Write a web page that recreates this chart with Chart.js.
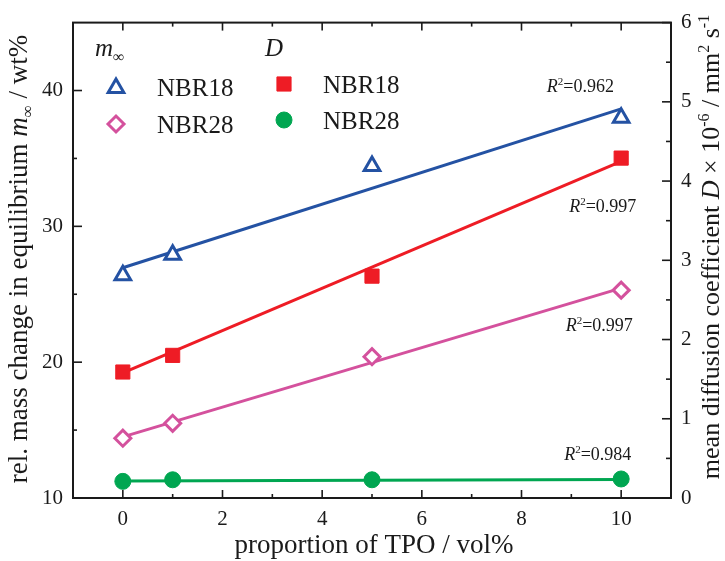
<!DOCTYPE html>
<html>
<head>
<meta charset="utf-8">
<script src="https://cdn.jsdelivr.net/npm/chart.js@4.4.1/dist/chart.umd.min.js"></script>
<style>
  html, body { margin: 0; padding: 0; background: #fff; }
  #wrap { width: 725px; height: 561px; }
</style>
</head>
<body>
<div id="wrap"><canvas id="grafico"></canvas></div>
<script>
// Datos (proporción de TPO en vol%)
const tpo      = [0, 1, 5, 10];
const mNBR18   = [26.4, 27.9, 34.45, 38.0];   // m∞ / wt%  (eje izquierdo)
const mNBR28   = [14.4, 15.5, 20.4, 25.3];
const dNBR18   = [1.59, 1.80, 2.80, 4.29];    // D ×10^-6 / mm² s^-1 (eje derecho)
const dNBR28   = [0.21, 0.23, 0.23, 0.24];

const ajusteX      = [0, 10];
const ajusteMNBR18 = [26.95, 38.65];
const ajusteMNBR28 = [14.5, 25.45];
const ajusteDNBR18 = [1.58, 4.25];
const ajusteDNBR28 = [0.215, 0.235];

const r2Valores = ['0.962', '0.997', '0.997', '0.984'];

// Marcas de los ejes
const xTicks          = [0, 2, 4, 6, 8, 10];
const xMenores        = [1, 3, 5, 7, 9];
const izqTicks        = [10, 20, 30, 40];
const izqMenores      = [15, 25, 35];
const derTicks        = [0, 1, 2, 3, 4, 5, 6];
const derMenores      = [0.5, 1.5, 2.5, 3.5, 4.5, 5.5];

const FUENTE = '"Liberation Serif", "DejaVu Serif", serif';
const TINTA  = '#1a1a1a';
const AZUL   = '#2452a3';
const ROSA   = '#d4519d';
const ROJO   = '#ee1c25';
const VERDE  = '#00a651';

const puntos = (xs, ys) => xs.map((x, i) => ({ x: x, y: ys[i] }));

// Texto con cursiva / superíndice / subíndice, centrado en (x, y)
function textoRico(ctx, partes, x, y, size, angulo) {
  ctx.save();
  ctx.translate(x, y);
  ctx.rotate(angulo || 0);
  ctx.textBaseline = 'alphabetic';
  ctx.textAlign = 'left';
  ctx.fillStyle = TINTA;
  const fuenteDe = p => (p.i ? 'italic ' : '') + Math.round((p.sup || p.sub) ? size * 0.62 : size) + 'px ' + FUENTE;
  let total = 0;
  partes.forEach(p => { ctx.font = fuenteDe(p); total += ctx.measureText(p.t).width; });
  let cx = -total / 2;
  partes.forEach(p => {
    ctx.font = fuenteDe(p);
    const dy = p.sup ? -size * 0.38 : (p.sub ? size * 0.22 : 0);
    ctx.fillText(p.t, cx, dy);
    cx += ctx.measureText(p.t).width;
  });
  ctx.restore();
}

function textoIzq(ctx, partes, x, y, size) {
  ctx.save();
  let total = 0;
  partes.forEach(p => {
    ctx.font = (p.i ? 'italic ' : '') + Math.round((p.sup || p.sub) ? size * 0.62 : size) + 'px ' + FUENTE;
    total += ctx.measureText(p.t).width;
  });
  ctx.restore();
  textoRico(ctx, partes, x + total / 2, y, size, 0);
}

// Marco, marcas hacia dentro, títulos, leyenda y R²
const decoracion = {
  id: 'decoracion',
  afterDatasetsDraw(chart) {
    const { ctx, chartArea: a, scales } = chart;
    const x = scales.x, yi = scales.y, yd = scales.y2;
    ctx.save();
    ctx.strokeStyle = TINTA;
    ctx.lineWidth = 2;
    ctx.strokeRect(a.left, a.top, a.right - a.left, a.bottom - a.top);

    ctx.lineWidth = 1.6;
    const linea = (x1, y1, x2, y2) => { ctx.beginPath(); ctx.moveTo(x1, y1); ctx.lineTo(x2, y2); ctx.stroke(); };
    xTicks.forEach(v => { const p = x.getPixelForValue(v); linea(p, a.bottom, p, a.bottom - 8); linea(p, a.top, p, a.top + 8); });
    xMenores.forEach(v => { const p = x.getPixelForValue(v); linea(p, a.bottom, p, a.bottom - 4); linea(p, a.top, p, a.top + 4); });
    izqTicks.forEach(v => { const p = yi.getPixelForValue(v); linea(a.left, p, a.left + 9, p); });
    izqMenores.forEach(v => { const p = yi.getPixelForValue(v); linea(a.left, p, a.left + 4, p); });
    derTicks.forEach(v => { const p = yd.getPixelForValue(v); linea(a.right, p, a.right - 9, p); });
    derMenores.forEach(v => { const p = yd.getPixelForValue(v); linea(a.right, p, a.right - 5, p); });
    ctx.restore();

    // Títulos de ejes
    textoRico(ctx, [
      { t: 'proportion of TPO / vol%' }
    ], 374, 553, 27, 0);
    textoRico(ctx, [
      { t: 'rel. mass change in equilibrium ' }, { t: 'm', i: true }, { t: '∞', sub: true }, { t: ' / wt%' }
    ], 27, 259, 27, -Math.PI / 2);
    textoRico(ctx, [
      { t: 'mean diffusion coefficient ' }, { t: 'D', i: true }, { t: ' × 10' }, { t: '-6', sup: true },
      { t: ' / mm' }, { t: '2', sup: true }, { t: ' s' }, { t: '-1', sup: true }
    ], 719, 247, 26, -Math.PI / 2);

    // Leyenda
    const ds = chart.data.datasets;
    textoIzq(ctx, [{ t: 'm', i: true }, { t: '∞', sub: true }], 95, 56, 25);
    textoIzq(ctx, [{ t: 'D', i: true }], 265, 56, 25);
    const marca = (d, px, py) => {
      ctx.save();
      ctx.fillStyle = d.pointBackgroundColor;
      ctx.strokeStyle = d.pointBorderColor;
      ctx.lineWidth = d.pointBorderWidth;
      Chart.helpers.drawPoint(ctx, { pointStyle: d.pointStyle, radius: d.pointRadius, borderWidth: d.pointBorderWidth, rotation: 0 }, px, py);
      ctx.restore();
    };
    marca(ds[0], 116, 88); textoIzq(ctx, [{ t: ds[0].label }], 157, 96, 25);
    marca(ds[1], 116, 124); textoIzq(ctx, [{ t: ds[1].label }], 157, 133, 25);
    marca(ds[2], 284, 84); textoIzq(ctx, [{ t: ds[2].label }], 323, 93, 25);
    marca(ds[3], 284, 120); textoIzq(ctx, [{ t: ds[3].label }], 323, 129, 25);

    // Coeficientes R² (posición en unidades del eje izquierdo)
    const posR2 = [[9.18, 39.87], [9.63, 31.08], [9.56, 22.3], [9.53, 12.78]];
    r2Valores.forEach((v, i) => {
      textoRico(ctx, [{ t: 'R', i: true }, { t: '2', sup: true }, { t: '=' + v }],
        x.getPixelForValue(posR2[i][0]), yi.getPixelForValue(posR2[i][1]), 18, 0);
    });
  }
};

function serieMarcas(label, datos, eje, estilo, color, relleno, radio, borde) {
  return {
    label: label, data: datos, yAxisID: eje, showLine: false, order: 0,
    pointStyle: estilo, pointRadius: radio, pointHoverRadius: radio,
    pointBackgroundColor: relleno, pointBorderColor: color, pointBorderWidth: borde,
    backgroundColor: relleno, borderColor: color
  };
}

function serieAjuste(label, datos, eje, color) {
  return {
    label: label, data: datos, yAxisID: eje, showLine: true, order: 1,
    borderColor: color, borderWidth: 3, pointRadius: 0, pointHoverRadius: 0, fill: false
  };
}

const ejeFijo = (lista) => function (scale) { scale.ticks = lista.map(v => ({ value: v })); };

new Chart(document.getElementById('grafico'), {
  type: 'scatter',
  data: {
    datasets: [
      serieMarcas('NBR18', puntos(tpo, mNBR18), 'y', 'triangle', AZUL, '#fff', 9, 3),
      serieMarcas('NBR28', puntos(tpo, mNBR28), 'y', 'rectRot', ROSA, '#fff', 8, 3),
      serieMarcas('NBR18', puntos(tpo, dNBR18), 'y2', 'rect', ROJO, ROJO, 10, 1),
      serieMarcas('NBR28', puntos(tpo, dNBR28), 'y2', 'circle', VERDE, VERDE, 8, 1),
      serieAjuste('ajuste m NBR18', puntos(ajusteX, ajusteMNBR18), 'y', AZUL),
      serieAjuste('ajuste m NBR28', puntos(ajusteX, ajusteMNBR28), 'y', ROSA),
      serieAjuste('ajuste D NBR18', puntos(ajusteX, ajusteDNBR18), 'y2', ROJO),
      serieAjuste('ajuste D NBR28', puntos(ajusteX, ajusteDNBR28), 'y2', VERDE)
    ]
  },
  options: {
    responsive: true,
    maintainAspectRatio: false,
    animation: false,
    layout: { padding: { top: 20, left: 0, right: 0, bottom: 0 } },
    plugins: { legend: { display: false }, tooltip: { enabled: false } },
    scales: {
      x: {
        type: 'linear', min: -1, max: 11,
        afterBuildTicks: ejeFijo(xTicks),
        afterFit: s => { s.height = 63; },
        grid: { display: false, drawTicks: false },
        border: { display: false },
        ticks: { padding: 9, color: TINTA, font: { family: FUENTE, size: 21 } }
      },
      y: {
        type: 'linear', position: 'left', min: 10, max: 45,
        afterBuildTicks: ejeFijo(izqTicks),
        afterFit: s => { s.width = 73; },
        grid: { display: false, drawTicks: false },
        border: { display: false },
        ticks: { padding: 10, color: TINTA, font: { family: FUENTE, size: 21 } }
      },
      y2: {
        type: 'linear', position: 'right', min: 0, max: 6,
        afterBuildTicks: ejeFijo(derTicks),
        afterFit: s => { s.width = 54; },
        grid: { display: false, drawTicks: false },
        border: { display: false },
        ticks: { padding: 10, color: TINTA, font: { family: FUENTE, size: 21 } }
      }
    }
  },
  plugins: [decoracion]
});
</script>
</body>
</html>
